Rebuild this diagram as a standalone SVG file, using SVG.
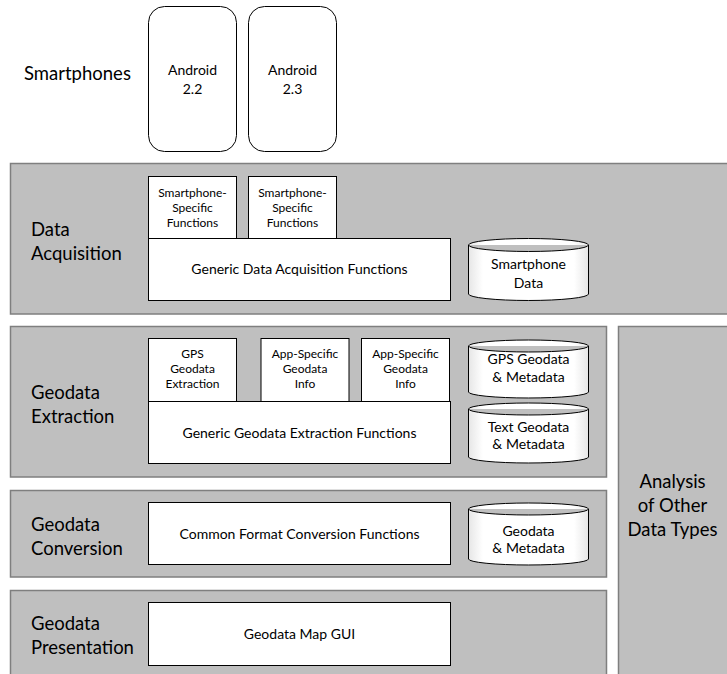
<svg xmlns="http://www.w3.org/2000/svg" width="727" height="674" viewBox="0 0 727 674">
<defs>
<linearGradient id="cylfill" x1="0" y1="0" x2="1" y2="0">
<stop offset="0" stop-color="#e6e6e6"/>
<stop offset="0.12" stop-color="#ffffff"/>
<stop offset="0.88" stop-color="#ffffff"/>
<stop offset="1" stop-color="#e6e6e6"/>
</linearGradient>
</defs>
<style>
.panel{fill:#bfbfbf;stroke:#7f7f7f;stroke-width:1.5}
.box{fill:#fff;stroke:#000;stroke-width:1}
.cyl{fill:url(#cylfill);stroke:#000;stroke-width:1}
text{font-family:Lato,"Liberation Sans",sans-serif;fill:#000}
.lbl{font-size:18.5px}
.mid{font-size:14px;text-anchor:middle}
.sm{font-size:12px;text-anchor:middle}
</style>
<rect width="727" height="674" fill="#fff"/>
<g id="smartphones">
<text class="lbl" x="24" y="80">Smartphones</text>
</g>
<g id="android22">
<rect class="box" x="148.5" y="6.5" width="88" height="145" rx="16"/>
<text class="mid" x="192.5" y="75">Android</text>
<text class="mid" x="192.5" y="94">2.2</text>
</g>
<g id="android23">
<rect class="box" x="248.5" y="6.5" width="88" height="145" rx="16"/>
<text class="mid" x="292.5" y="75">Android</text>
<text class="mid" x="292.5" y="94">2.3</text>
</g>

<g id="data-acquisition">
<rect class="panel" x="10.5" y="163.5" width="740" height="150.5"/>
<text class="lbl" x="31" y="236">Data</text>
<text class="lbl" x="31" y="260">Acquisition</text>
</g>
<g id="sp-specific-1">
<rect class="box" x="148.5" y="176.5" width="88" height="62"/>
<text class="sm" x="192.5" y="197">Smartphone-</text>
<text class="sm" x="192.5" y="212">Specific</text>
<text class="sm" x="192.5" y="227">Functions</text>
</g>
<g id="sp-specific-2">
<rect class="box" x="248.5" y="176.5" width="88" height="62"/>
<text class="sm" x="292.5" y="197">Smartphone-</text>
<text class="sm" x="292.5" y="212">Specific</text>
<text class="sm" x="292.5" y="227">Functions</text>
</g>
<g id="generic-acq">
<rect class="box" x="148.5" y="238.5" width="302" height="62"/>
<text class="mid" x="299.5" y="274">Generic Data Acquisition Functions</text>
</g>
<g id="smartphone-data">
<path class="cyl" d="M468.5,245 A60,6.5 0 0 1 588.5,245 V294 A60,6.5 0 0 1 468.5,294 Z M468.5,245 A60,6.5 0 0 0 588.5,245"/>
<text class="mid" x="528.5" y="269">Smartphone</text>
<text class="mid" x="528.5" y="288">Data</text>
</g>

<g id="geodata-extraction">
<rect class="panel" x="10.5" y="326.5" width="596" height="150.5"/>
<text class="lbl" x="31" y="399">Geodata</text>
<text class="lbl" x="31" y="423">Extraction</text>
</g>
<g id="gps-extraction">
<rect class="box" x="148.5" y="338.5" width="88" height="63"/>
<text class="sm" x="192.5" y="358">GPS</text>
<text class="sm" x="192.5" y="373">Geodata</text>
<text class="sm" x="192.5" y="388">Extraction</text>
</g>
<g id="app-specific-1">
<rect class="box" x="261" y="338.5" width="88" height="63"/>
<text class="sm" x="305" y="358">App-Specific</text>
<text class="sm" x="305" y="373">Geodata</text>
<text class="sm" x="305" y="388">Info</text>
</g>
<g id="app-specific-2">
<rect class="box" x="361.5" y="338.5" width="88" height="63"/>
<text class="sm" x="405.5" y="358">App-Specific</text>
<text class="sm" x="405.5" y="373">Geodata</text>
<text class="sm" x="405.5" y="388">Info</text>
</g>
<g id="generic-extraction">
<rect class="box" x="148.5" y="401.5" width="302" height="62"/>
<text class="mid" x="299.5" y="438">Generic Geodata Extraction Functions</text>
</g>
<g id="gps-geodata">
<path class="cyl" d="M468.5,346 A60,6 0 0 1 588.5,346 V392 A60,6 0 0 1 468.5,392 Z M468.5,346 A60,6 0 0 0 588.5,346"/>
<text class="mid" x="528.5" y="364">GPS Geodata</text>
<text class="mid" x="528.5" y="382">&amp; Metadata</text>
</g>
<g id="text-geodata">
<path class="cyl" d="M468.5,409 A60,6 0 0 1 588.5,409 V457 A60,6 0 0 1 468.5,457 Z M468.5,409 A60,6 0 0 0 588.5,409"/>
<text class="mid" x="528.5" y="432">Text Geodata</text>
<text class="mid" x="528.5" y="449">&amp; Metadata</text>
</g>

<g id="analysis">
<rect class="panel" x="618.5" y="326.5" width="130" height="360"/>
<text class="lbl" x="672.5" y="488" text-anchor="middle">Analysis</text>
<text class="lbl" x="672.5" y="512" text-anchor="middle">of Other</text>
<text class="lbl" x="672.5" y="536" text-anchor="middle">Data Types</text>
</g>

<g id="geodata-conversion">
<rect class="panel" x="10.5" y="490.5" width="596" height="86.5"/>
<text class="lbl" x="31" y="531">Geodata</text>
<text class="lbl" x="31" y="555">Conversion</text>
</g>
<g id="common-format">
<rect class="box" x="148.5" y="502.5" width="302" height="62"/>
<text class="mid" x="299.5" y="539">Common Format Conversion Functions</text>
</g>
<g id="geodata-metadata">
<path class="cyl" d="M468.5,509 A60,6 0 0 1 588.5,509 V559 A60,6 0 0 1 468.5,559 Z M468.5,509 A60,6 0 0 0 588.5,509"/>
<text class="mid" x="528.5" y="536">Geodata</text>
<text class="mid" x="528.5" y="553">&amp; Metadata</text>
</g>

<g id="geodata-presentation">
<rect class="panel" x="10.5" y="590.5" width="596" height="100"/>
<text class="lbl" x="31" y="630">Geodata</text>
<text class="lbl" x="31" y="654">Presentation</text>
</g>
<g id="map-gui">
<rect class="box" x="148.5" y="602.5" width="302" height="63"/>
<text class="mid" x="299.5" y="639">Geodata Map GUI</text>
</g>
<g id="connectors"/>
</svg>
